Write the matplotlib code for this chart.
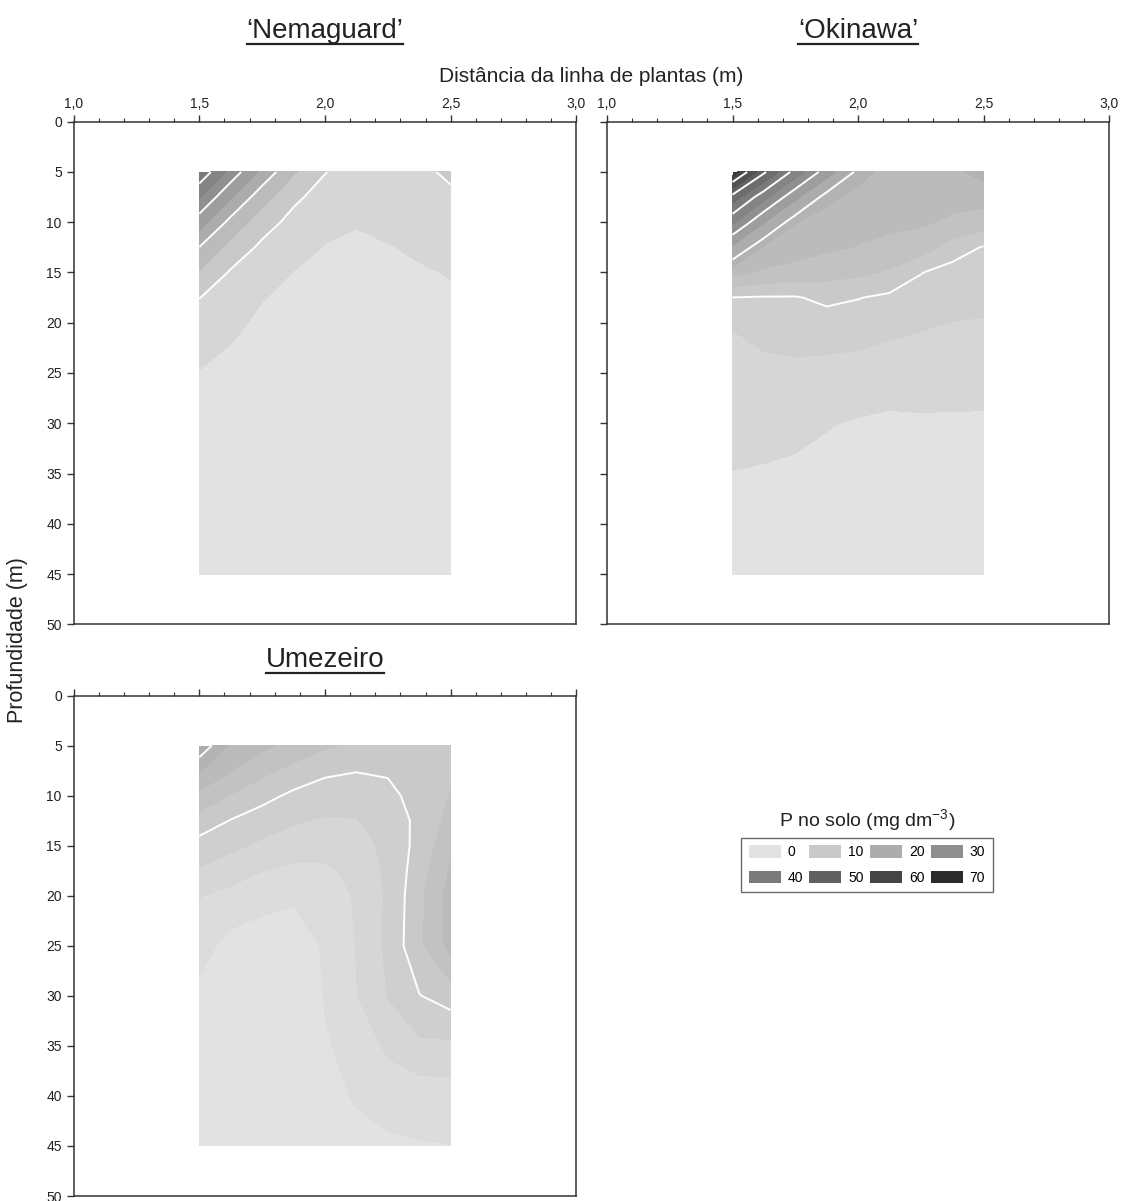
import matplotlib
matplotlib.use("Agg")
import numpy as np
import matplotlib.pyplot as plt
from matplotlib.colors import LinearSegmentedColormap, Normalize
from matplotlib.lines import Line2D
from matplotlib.patches import Patch
from matplotlib.ticker import MultipleLocator, FuncFormatter

plt.rcParams["font.family"] = ["Liberation Sans", "DejaVu Sans"]
plt.rcParams["mathtext.default"] = "regular"

# sampling grid: distance from the plant row (m) and depth
distance = [1.5, 1.625, 1.75, 1.875, 2.0, 2.125, 2.25, 2.375, 2.5]
depth = [5, 7.5, 10, 12.5, 15, 17.5, 20, 25, 30, 35, 40, 45]

# soil P (mg dm-3), one row per depth
p_nemaguard = [
    [44.0, 33.2, 23.6, 15.6, 10.2, 7.5, 7.5, 8.8, 11.0],
    [35.3, 25.4, 17.0, 11.0, 8.0, 6.0, 6.8, 7.6, 9.0],
    [27.3, 18.5, 12.1, 8.5, 6.1, 5.2, 6.0, 6.6, 7.5],
    [19.9, 13.2, 9.0, 6.6, 4.8, 4.4, 4.8, 5.6, 6.2],
    [14.4, 9.5, 7.0, 4.9, 4.3, 4.1, 4.2, 4.6, 5.2],
    [10.1, 7.5, 5.1, 4.4, 4.0, 3.9, 3.9, 4.1, 4.5],
    [8.0, 5.6, 4.5, 4.0, 3.8, 3.7, 3.7, 3.8, 4.0],
    [4.8, 4.2, 3.9, 3.6, 3.6, 3.6, 3.6, 3.6, 3.6],
    [3.5, 3.5, 3.5, 3.5, 3.5, 3.5, 3.5, 3.5, 3.5],
    [3.3, 3.3, 3.3, 3.3, 3.3, 3.3, 3.3, 3.3, 3.3],
    [3.2, 3.2, 3.2, 3.2, 3.2, 3.2, 3.2, 3.2, 3.2],
    [3.0, 3.0, 3.0, 3.0, 3.0, 3.0, 3.0, 3.0, 3.0],
]

p_okinawa = [
    [68.0, 50.9, 37.9, 27.3, 18.9, 16.2, 16.0, 16.8, 18.5],
    [48.0, 36.6, 26.2, 18.25, 16.6, 15.9, 15.8, 15.6, 16.0],
    [36.0, 25.2, 17.6, 16.3, 15.8, 15.6, 15.3, 14.7, 13.8],
    [24.0, 17.0, 16.0, 15.4, 14.9, 14.3, 13.8, 11.4, 9.8],
    [15.8, 14.6, 14.2, 13.5, 13.0, 12.2, 10.1, 9.0, 8.9],
    [9.95, 9.8, 9.8, 10.6, 10.1, 9.5, 8.9, 8.5, 8.2],
    [7.6, 8.7, 8.8, 8.9, 8.7, 8.25, 7.8, 7.45, 7.3],
    [6.9, 6.6, 6.9, 6.7, 6.5, 6.15, 6.1, 6.3, 6.2],
    [5.8, 5.8, 5.6, 5.1, 4.8, 4.6, 4.7, 4.6, 4.6],
    [4.95, 4.8, 4.6, 4.5, 4.4, 4.3, 4.3, 4.3, 4.4],
    [4.3, 4.3, 4.2, 4.1, 4.1, 4.0, 4.0, 4.0, 4.0],
    [4.0, 4.0, 3.9, 3.9, 3.8, 3.8, 3.8, 3.8, 3.8],
]

p_umezeiro = [
    [22.0, 17.0, 15.6, 14.2, 12.9, 12.0, 11.8, 11.5, 12.0],
    [17.7, 15.1, 13.2, 11.7, 10.5, 10.1, 10.3, 11.2, 12.2],
    [14.4, 12.4, 10.8, 9.5, 8.75, 8.6, 9.3, 11.0, 12.6],
    [11.4, 9.9, 8.8, 7.8, 7.2, 7.4, 8.6, 10.6, 13.3],
    [9.1, 8.1, 7.0, 6.1, 5.9, 6.4, 8.2, 10.8, 14.3],
    [7.2, 6.1, 5.05, 4.5, 4.6, 5.6, 8.0, 11.3, 15.3],
    [5.1, 4.3, 3.5, 3.0, 3.9, 5.2, 7.9, 11.8, 16.0],
    [3.5, 1.6, 1.0, 0.6, 2.9, 5.1, 8.0, 12.0, 15.8],
    [1.9, 1.3, 1.0, 0.8, 2.6, 4.9, 7.6, 9.9, 11.2],
    [1.5, 1.2, 1.0, 0.9, 2.35, 3.0, 5.6, 7.0, 7.0],
    [1.3, 1.1, 1.0, 1.0, 1.8, 2.7, 3.2, 3.6, 3.8],
    [1.2, 1.0, 1.0, 1.0, 1.5, 1.9, 2.2, 2.35, 2.45],
]

fill_nemaguard = [0, 5, 10, 15, 20, 25, 30, 35, 40, 45, 50, 55, 60, 65, 70, 75]
fill_okinawa = [0, 5, 7.5, 10, 12.5, 15, 17.5, 20, 25, 30, 35, 40, 45, 50, 55, 60, 65, 70, 75]
fill_umezeiro = [0, 2.5, 5, 7.5, 10, 12.5, 15, 17.5, 20, 22.5, 25]
line_levels = [10, 20, 30, 40, 50, 60, 70]

legend_values = [0, 10, 20, 30, 40, 50, 60, 70]
legend_greys = ["#e2e2e2", "#c9c9c9", "#acacac", "#8f8f8f",
                "#7a7a7a", "#606060", "#454545", "#2b2b2b"]

W, H = 1122, 1201
fig = plt.figure(figsize=(W / 100, H / 100), dpi=100)

cmap = LinearSegmentedColormap.from_list(
    "p_grey", list(zip(np.array(legend_values) / 70.0, legend_greys)))
norm = Normalize(0, 70)


def rect(left, top, right, bottom):
    return [left / W, 1 - bottom / H, (right - left) / W, (bottom - top) / H]


comma = FuncFormatter(lambda v, pos: f"{v:.1f}".replace(".", ","))

panels = [
    (p_nemaguard, fill_nemaguard, rect(73.6, 121.7, 576.4, 624.3), True, True),
    (p_okinawa, fill_okinawa, rect(607, 121.7, 1109, 624.3), True, False),
    (p_umezeiro, fill_umezeiro, rect(73.6, 695.5, 576.4, 1196), False, True),
]

for values, levels, box, xlabels, ylabels in panels:
    ax = fig.add_axes(box)
    z = np.array(values)
    ax.contourf(distance, depth, z, levels=levels,
                colors=[cmap(norm(v)) for v in levels[:-1]])
    ax.contour(distance, depth, z, levels=line_levels,
               colors="white", linewidths=1.4)
    ax.set_xlim(1.0, 3.0)
    ax.set_ylim(50, 0)
    ax.xaxis.tick_top()
    ax.xaxis.set_major_locator(MultipleLocator(0.5))
    ax.xaxis.set_minor_locator(MultipleLocator(0.1))
    ax.xaxis.set_major_formatter(comma)
    ax.yaxis.set_major_locator(MultipleLocator(5))
    ax.tick_params(axis="x", which="both", direction="out", top=True,
                   bottom=False, labeltop=xlabels, labelbottom=False,
                   colors="#333333", labelcolor="#222222", labelsize=10)
    ax.tick_params(axis="x", which="major", length=5, width=1, pad=3)
    ax.tick_params(axis="x", which="minor", length=3, width=0.8)
    ax.tick_params(axis="y", which="major", direction="out", left=True,
                   right=False, labelleft=ylabels, length=5, width=1,
                   colors="#333333", labelcolor="#222222", labelsize=10)
    for sp in ax.spines.values():
        sp.set_color("#333333")
        sp.set_linewidth(1.1)

titles = [
    fig.text(325 / W, 1 - 38 / H, "‘Nemaguard’", ha="center", va="baseline",
             fontsize=20, color="#222222"),
    fig.text(858 / W, 1 - 38 / H, "‘Okinawa’", ha="center", va="baseline",
             fontsize=20, color="#222222"),
    fig.text(325 / W, 1 - 667 / H, "Umezeiro", ha="center", va="baseline",
             fontsize=20, color="#222222"),
]
underline_y = [44, 44, 673]

fig.text(591 / W, 1 - 77 / H, "Distância da linha de plantas (m)",
         ha="center", va="center", fontsize=15, color="#222222")
fig.text(18 / W, 1 - 640 / H, "Profundidade (m)", ha="center", va="center",
         rotation=90, fontsize=15.5, color="#222222")

# legend of the fill scale
fig.text(867 / W, 1 - 820 / H, "P no solo (mg dm$^{-3}$)", ha="center",
         va="center", fontsize=14, color="#222222")
order = [0, 4, 1, 5, 2, 6, 3, 7]
handles = [Patch(facecolor=legend_greys[i], edgecolor="none") for i in order]
labels = [str(legend_values[i]) for i in order]
leg = fig.legend(handles, labels, ncol=4, loc="center",
                 bbox_to_anchor=(867 / W, 1 - 865 / H), fontsize=10,
                 handlelength=2.3, handleheight=1.0, handletextpad=0.5,
                 columnspacing=0.45, labelspacing=0.8, borderpad=0.55,
                 frameon=True, fancybox=False)
leg.get_frame().set_edgecolor("#444444")
leg.get_frame().set_linewidth(1.0)

fig.canvas.draw()
renderer = fig.canvas.get_renderer()
for t, y in zip(titles, underline_y):
    bb = t.get_window_extent(renderer).transformed(fig.transFigure.inverted())
    fig.add_artist(Line2D([bb.x0, bb.x1], [1 - y / H, 1 - y / H],
                          transform=fig.transFigure, color="#222222", lw=1.6))

fig.savefig("out.png", dpi=100)
